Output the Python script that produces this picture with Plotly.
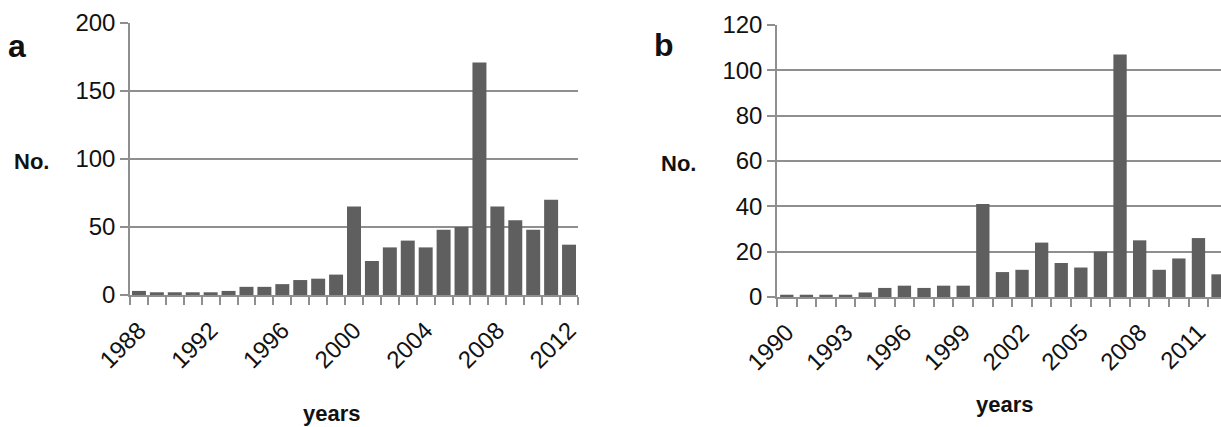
import plotly.graph_objects as go

years_a = list(range(1988, 2013))
values_a = [3, 2, 2, 2, 2, 3, 6, 6, 8, 11, 12, 15, 65, 25, 35, 40, 35, 48, 50, 171, 65, 55, 48, 70, 37]
ticks_a = [1988, 1992, 1996, 2000, 2004, 2008, 2012]

years_b = list(range(1990, 2013))
values_b = [1, 1, 1, 1, 2, 4, 5, 4, 5, 5, 41, 11, 12, 24, 15, 13, 20, 107, 25, 12, 17, 26, 10]
ticks_b = [1990, 1993, 1996, 1999, 2002, 2005, 2008, 2011]

BAR = "#5f5f5f"
GRID = "#8f8f8f"
FONT = "Liberation Sans"

W, H = 1221, 427

def px_x(v):
    return v / W
def px_y(v):
    return 1 - v / H

fig = go.Figure()
fig.add_trace(go.Bar(x=years_a, y=values_a, marker=dict(color=BAR, line=dict(width=0)),
                     xaxis="x", yaxis="y", showlegend=False))
fig.add_trace(go.Bar(x=years_b, y=values_b, marker=dict(color=BAR, line=dict(width=0)),
                     xaxis="x2", yaxis="y2", showlegend=False, width=0.68))

common_x = dict(
    showgrid=False, zeroline=False, showline=True, linecolor=GRID, linewidth=1.5,
    ticks="", tickangle=-45, tickfont=dict(family=FONT, size=24, color="#111"),
    ticklabelstandoff=10, automargin=False,
    minor=dict(ticks="outside", dtick=1, ticklen=8, tickcolor=GRID, tickwidth=1.5, showgrid=False),
)
common_y = dict(
    showgrid=True, gridcolor=GRID, gridwidth=1.5, zeroline=False, showline=True,
    linecolor=GRID, linewidth=1.5, ticks="outside", ticklen=8, tickcolor=GRID, tickwidth=1.5,
    tickfont=dict(family=FONT, size=24, color="#111"), automargin=False,
)

fig.update_layout(
    width=W, height=H, margin=dict(l=0, r=0, t=0, b=0),
    paper_bgcolor="white", plot_bgcolor="white", bargap=0.22,
    xaxis=dict(common_x, domain=[px_x(130), px_x(578)], anchor="y", range=[1987.5, 2012.5],
               tickmode="array", tickvals=ticks_a, ticktext=[str(t) for t in ticks_a],
               minor=dict(common_x["minor"], tick0=1987.5)),
    yaxis=dict(common_y, domain=[px_y(295), px_y(23)], anchor="x", range=[0, 200], dtick=50),
    xaxis2=dict(common_x, domain=[px_x(777), 1.0], anchor="y2", range=[1989.5, 2012.15],
                tickmode="array", tickvals=ticks_b, ticktext=[str(t) for t in ticks_b],
                minor=dict(common_x["minor"], tick0=1989.5)),
    yaxis2=dict(common_y, domain=[px_y(297), px_y(25)], anchor="x2", range=[0, 120], dtick=20),
)

ann = [
    dict(text="<b>a</b>", x=px_x(6), y=px_y(46), size=32),
    dict(text="<b>b</b>", x=px_x(652), y=px_y(45), size=32),
    dict(text="<b>No.</b>", x=px_x(12), y=px_y(161), size=22),
    dict(text="<b>No.</b>", x=px_x(659), y=px_y(163), size=22),
    dict(text="<b>years</b>", x=px_x(301), y=px_y(413), size=22),
    dict(text="<b>years</b>", x=px_x(974), y=px_y(404), size=22),
]
for a in ann:
    fig.add_annotation(text=a["text"], x=a["x"], y=a["y"], xref="paper", yref="paper",
                       xanchor="left", yanchor="middle", showarrow=False,
                       font=dict(family=FONT, size=a["size"], color="#111"))

fig.write_html(
    "out.html",
    config={"displayModeBar": False},
    post_script="document.body.style.margin='0';document.body.style.overflow='hidden';",
)
